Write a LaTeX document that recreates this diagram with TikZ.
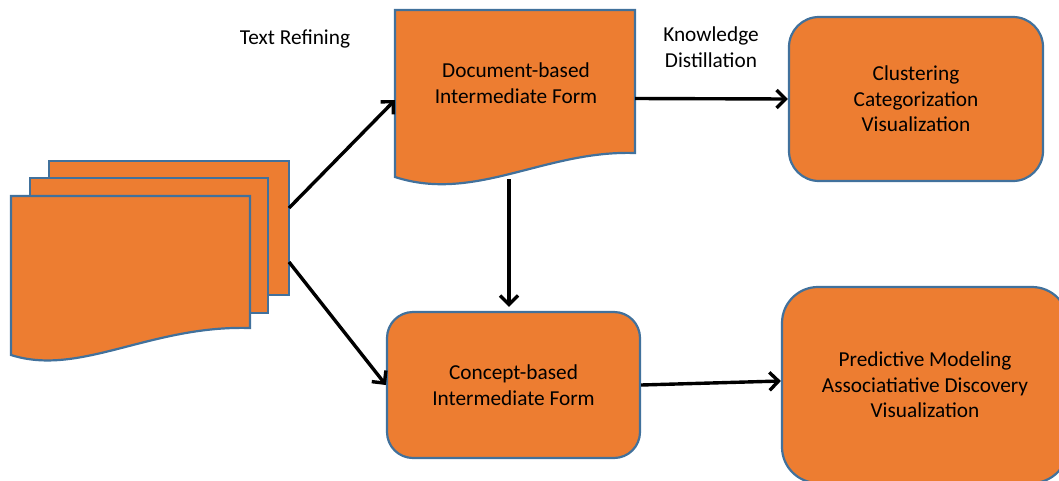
\documentclass[tikz,border=0pt]{standalone}
\usepackage{fontspec}
\setmainfont{Carlito}
\usetikzlibrary{arrows.meta}
\definecolor{orangeF}{HTML}{ED7D31}
\definecolor{blueB}{HTML}{41719C}
\begin{document}
\begin{tikzpicture}[x=1pt,y=-1pt,
  shapefill/.style={fill=orangeF, draw=blueB, line width=2.2pt},
  ghost/.style={inner sep=0pt, outer sep=0pt},
  box/.style={shapefill, inner sep=0pt, align=center, font=\fontsize{21.3}{25.5}\selectfont},
  lab/.style={align=center, font=\fontsize{21.3}{25.5}\selectfont},
  conn/.style={draw=black, line width=3.4pt, -{Straight Barb[length=9pt,width=18pt,line width=3.4pt]}}]
\useasboundingbox (0,0) rectangle (1059,480);
% multi-document
\path[shapefill] (49,161) rectangle (289,295);
\path[shapefill] (30,178) rectangle (268,313);
\path[shapefill] (11,196) -- (250,196) -- (250,328)
   .. controls (150,325) and (80,377) .. (11,355) -- cycle;
\node[ghost, minimum width=240pt, minimum height=134pt] (multi) at (169,228) {};
% document-based
\path[shapefill] (395,10) -- (635,10) -- (635,153)
   .. controls (545,150) and (475,203) .. (395,177) -- cycle;
\node[ghost, minimum width=240pt, minimum height=177pt] (doc) at (515,98.5) {};
\node[lab] (doctext) at (516,83) {Document-based\\Intermediate Form};
% rounded boxes
\node[box, rounded corners=30pt, minimum width=254pt, minimum height=164pt] (clust) at (916,99)
  {Clustering\\Categorization\\Visualization};
\node[box, rounded corners=26pt, minimum width=253pt, minimum height=146pt] (concept) at (513.5,385)
  {Concept-based\\Intermediate Form};
\node[box, rounded corners=36pt, minimum width=286pt, minimum height=196pt] (pred) at (925,385)
  {Predictive Modeling\\Associatiative Discovery\\Visualization};
% labels
\node[lab] (tr) at (295,39) {Text Refining};
\node[lab] (kd) at (711,47) {Knowledge\\Distillation};
% connectors
\draw[conn] ([yshift=20pt]multi.east) -- ([yshift=-1.5pt]doc.west);
\draw[conn] ([yshift=-34pt]multi.east) -- (concept.west);
\draw[conn] (doc.east) -- (clust.west);
\draw[conn] ([xshift=-6pt,yshift=8pt]doc.south) -- ([xshift=-4.5pt,yshift=4pt]concept.north);
\draw[conn] (concept.east) -- ([yshift=4pt]pred.west);
\end{tikzpicture}
\end{document}
